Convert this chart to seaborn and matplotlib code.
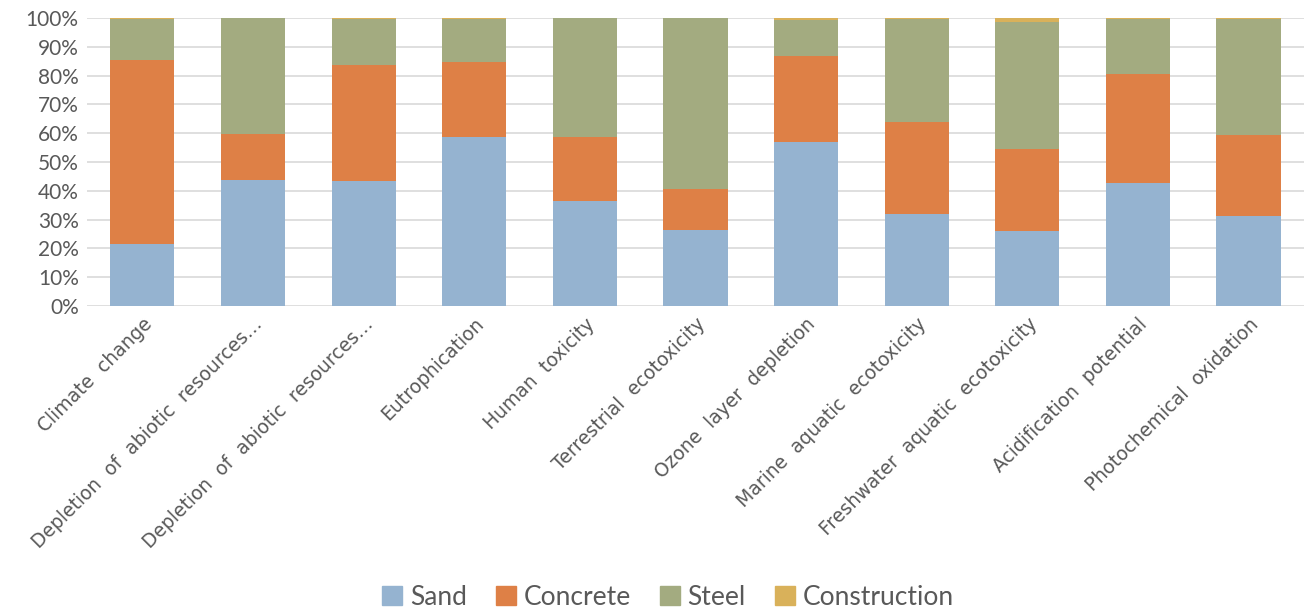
import matplotlib
matplotlib.use("Agg")
import matplotlib.pyplot as plt
import matplotlib.patches as mpatches
import numpy as np
import pandas as pd
import seaborn as sns

categories = [
    "Climate change",
    "Depletion of abiotic resources…",
    "Depletion of abiotic resources…",
    "Eutrophication",
    "Human toxicity",
    "Terrestrial ecotoxicity",
    "Ozone layer depletion",
    "Marine aquatic ecotoxicity",
    "Freshwater aquatic ecotoxicity",
    "Acidification potential",
    "Photochemical oxidation",
]
sand = [21.5, 43.8, 43.4, 58.7, 36.5, 26.4, 57.0, 31.9, 26.0, 42.7, 31.3]
concrete = [63.9, 15.9, 40.3, 26.0, 22.2, 14.2, 29.8, 32.0, 28.5, 37.9, 28.1]
steel = [14.3, 40.2, 15.8, 14.9, 41.2, 59.3, 12.3, 35.7, 44.1, 18.9, 40.2]
construction = [0.3, 0.1, 0.5, 0.4, 0.1, 0.1, 0.9, 0.4, 1.4, 0.5, 0.4]

series_names = ["Sand", "Concrete", "Steel", "Construction"]
series_values = [sand, concrete, steel, construction]
colors = ["#95B3D0", "#DE8046", "#A3AB80", "#D9B15A"]

sns.set_style("white")
plt.rcParams["font.family"] = ["Lato", "DejaVu Sans"]
text_color = "#595959"

fig = plt.figure(figsize=(13.07, 6.16), dpi=100)
ax = fig.add_axes([0.0666, 0.503, 0.931, 0.468])

# unique x keys so the repeated labels stay as separate bars
keys = [f"c{i}" for i in range(len(categories))]
bottom = np.zeros(len(categories))
for name, vals, col in zip(series_names, series_values, colors):
    df = pd.DataFrame({"key": keys, "value": vals})
    sns.barplot(data=df, x="key", y="value", color=col, width=0.58,
                bottom=bottom, ax=ax, edgecolor="none", linewidth=0,
                saturation=1)
    bottom = bottom + np.array(vals)

ax.set_ylim(0, 100)
ax.set_xlim(-0.5, len(categories) - 0.5)
ax.set_yticks(np.arange(0, 101, 10))
ax.set_yticklabels([f"{v}%" for v in range(0, 101, 10)], fontsize=15,
                   color=text_color)
ax.set_xticks(range(len(categories)))
# wide word spacing on the category labels
ax.set_xticklabels([c.replace(" ", "  ") for c in categories], rotation=45,
                   ha="right", rotation_mode="anchor", fontsize=13.5,
                   color=text_color, family=["DejaVu Sans"])
ax.tick_params(axis="both", length=0, pad=6)
ax.set_xlabel("")
ax.set_ylabel("")
ax.yaxis.grid(True, color="#D9D9D9", linewidth=1.2)
ax.set_axisbelow(True)
for s in ax.spines.values():
    s.set_visible(False)

handles = [mpatches.Patch(color=c, label=n) for n, c in zip(series_names, colors)]
fig.legend(handles=handles, loc="center", bbox_to_anchor=(0.511, 0.03),
           ncol=4, frameon=False, fontsize=19, handlelength=0.75,
           handleheight=0.75, handletextpad=0.3, columnspacing=1.1,
           labelcolor=text_color)

fig.savefig("out.png", dpi=100)
